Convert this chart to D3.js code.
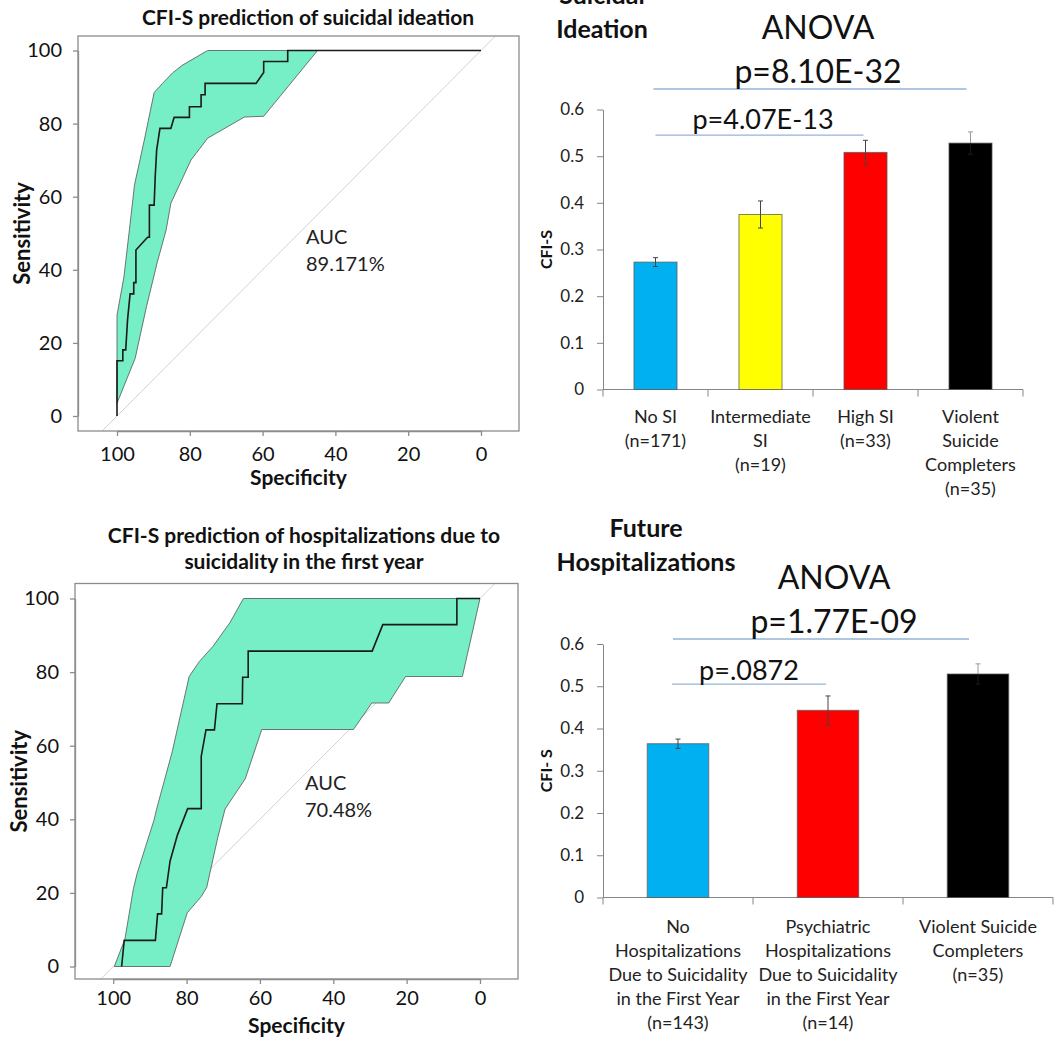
<!DOCTYPE html>
<html><head><meta charset="utf-8">
<script src="https://cdn.jsdelivr.net/npm/d3@7"></script>
<style>body{margin:0;background:#fff}svg{display:block;font-family:Lato,"Open Sans",sans-serif}</style>
</head><body><svg id="c" width="1058" height="1038"></svg>
<script>
// ---------- ROC 1: suicidal ideation ----------
const roc1Spec = [100,100,98.4,98.4,97.6,97.1,96.4,95.4,95.4,94.8,94.8,91.6,91.1,91.1,89.8,89.5,89.1,88.2,85.2,84.3,80.1,80.1,76.9,76.9,75.8,75.8,61.8,59.7,59.7,53.1,53.1,0];
const roc1Sens = [0,15.1,15.1,18.1,18.1,26.3,33.4,33.4,36.5,36.5,45.4,48.9,48.9,57.7,57.7,65.5,72.8,78.7,78.7,81.7,81.7,84.6,84.6,87.9,87.9,91.0,91.0,94.0,97.0,97.0,100,100];
const ci1UpperSpec = [100,100,98.1,96.6,95.2,92.5,89.8,87.5,84.7,82,75.1,44.9];
const ci1UpperSens = [3.5,27.6,38,50.9,63.2,75.5,88.5,91,93.9,96,100,100];
const ci1LowerSpec = [44.9,59.7,65,75.1,79.7,85.2,86.5,88.9,91.9,95,100];
const ci1LowerSens = [100,82,81.8,76,70,58.2,50.9,42.2,29.9,15.8,3.5];
const auc1 = "89.171%";

// ---------- ROC 2: hospitalizations ----------
const roc2Spec = [97.7,97.0,88.5,87.9,86.8,86.5,85.5,84.5,82.5,79.7,76,76,74.7,72.4,71.7,64.8,64.7,63.2,63.2,29.4,26.5,6.3,6.3,0];
const roc2Sens = [0,7.1,7.1,14.3,14.3,21.4,21.4,28.6,35.7,42.9,42.9,57.1,64.3,64.3,71.4,71.4,78.6,78.6,85.7,85.7,92.9,92.9,100,100];
const ci2UpperSpec = [99.7,96.8,94.5,93.5,91.2,88.9,88,83.9,79.3,76.5,72.8,68.2,64.5,0];
const ci2UpperSens = [0,7.5,21.1,25.2,32.5,39.7,43.4,58.4,78.8,82.9,87,93.4,100,100];
const ci2LowerSpec = [0,4.8,20.3,24.9,29.5,34.5,59.5,64,69.5,71.5,74.5,76,79.8,84.5,99.7];
const ci2LowerSens = [100,78.8,78.8,71.6,71.6,64.4,64.4,51,42.8,35,21.5,19,14.6,0,0];
const auc2 = "70.48%";

const rocTicks = [0,20,40,60,80,100];

// ---------- Bar chart 1: suicidal ideation ----------
const bar1Cats = [["No SI","(n=171)"],["Intermediate","SI","(n=19)"],["High SI","(n=33)"],["Violent","Suicide","Completers","(n=35)"]];
const bar1Vals = [0.273,0.375,0.508,0.528];
const bar1Err = [0.0095,0.029,0.026,0.024];
const bar1Colors = ["#00B0F0","#FFFF00","#FF0000","#000000"];

// ---------- Bar chart 2: future hospitalizations ----------
const bar2Cats = [["No","Hospitalizations","Due to Suicidality","in the First Year","(n=143)"],["Psychiatric","Hospitalizations","Due to Suicidality","in the First Year","(n=14)"],["Violent Suicide","Completers","(n=35)"]];
const bar2Vals = [0.364,0.443,0.529];
const bar2Err = [0.011,0.034,0.024];
const bar2Colors = ["#00B0F0","#FF0000","#000000"];

const barTicks = [0,0.1,0.2,0.3,0.4,0.5,0.6];

const svg = d3.select("#c");

function zipPts(a,b){return a.map((v,i)=>[v,b[i]]);}

function drawROC(c){
  const g = svg.append("g");
  const x = d3.scaleLinear().domain([100,0]).range([c.x100,c.x0]);
  const y = d3.scaleLinear().domain([0,100]).range([c.y0,c.y100]);
  const id = "clip"+c.id;
  g.append("clipPath").attr("id",id).append("rect")
    .attr("x",c.bl).attr("y",c.bt).attr("width",c.br-c.bl).attr("height",c.bb-c.bt);
  const line = d3.line().x(d=>x(d[0])).y(d=>y(d[1]));
  // diagonal
  g.append("path").attr("clip-path",`url(#${id})`)
    .attr("d",line([[120,-20],[-20,120]])).attr("stroke","#d2d2d2").attr("stroke-width",1).attr("fill","none");
  // CI band
  const band = zipPts(c.uS,c.uV).concat(zipPts(c.lS,c.lV));
  g.append("path").attr("d",line(band)+"Z").attr("fill","#76EEC6").attr("stroke","#555").attr("stroke-width",0.8);
  // curve
  g.append("path").attr("d",line(zipPts(c.spec,c.sens))).attr("fill","none").attr("stroke","#1a1a1a").attr("stroke-width",1.6);
  // box
  g.append("rect").attr("x",c.bl).attr("y",c.bt).attr("width",c.br-c.bl).attr("height",c.bb-c.bt)
    .attr("fill","none").attr("stroke","#8c8c8c").attr("stroke-width",1.3);
  // axes
  const ya = g.append("g").attr("transform",`translate(${c.bl},0)`)
    .call(d3.axisLeft(y).tickValues(rocTicks).tickSize(5).tickPadding(11).tickSizeOuter(0));
  const xa = g.append("g").attr("transform",`translate(0,${c.bb})`)
    .call(d3.axisBottom(x).tickValues(rocTicks).tickSize(5).tickPadding(c.xPad).tickSizeOuter(0));
  [ya,xa].forEach(a=>{
    a.select(".domain").attr("stroke","#8c8c8c").attr("stroke-width",1.3);
    a.selectAll(".tick line").attr("stroke","#8c8c8c").attr("stroke-width",1.3);
    a.selectAll("text").attr("font-family","Lato").attr("font-size",20).attr("fill","#111");
  });
  // labels
  g.append("text").attr("x",(c.bl+c.br)/2).attr("y",c.bb+c.xlOff).attr("text-anchor","middle")
    .attr("font-weight","bold").attr("font-size",21).attr("fill","#111").text("Specificity");
  g.append("text").attr("transform",`translate(${c.ylx},${(c.bt+c.bb)/2}) rotate(-90)`).attr("text-anchor","middle")
    .attr("dy","0.35em").attr("font-weight","bold").attr("font-size",22).attr("fill","#111").text("Sensitivity");
  // AUC
  g.append("text").attr("x",c.aucX).attr("y",c.aucY).attr("font-size",20).attr("fill","#222").text("AUC");
  g.append("text").attr("x",c.aucX).attr("y",c.aucY+27).attr("font-size",20).attr("fill","#222").text(c.auc);
  // title
  c.title.forEach((t,i)=>{
    g.append("text").attr("x",c.tx).attr("y",c.ty+i*26).attr("text-anchor","middle")
      .attr("font-weight","bold").attr("font-size",21).attr("fill","#111").text(t);
  });
}

drawROC({id:1,x100:117,x0:481,y0:416,y100:50.5,bl:78,br:519,bt:36,bb:431,xlOff:54,xPad:11,
  spec:roc1Spec,sens:roc1Sens,uS:ci1UpperSpec,uV:ci1UpperSens,lS:ci1LowerSpec,lV:ci1LowerSens,
  auc:auc1,aucX:306,aucY:244,ylx:22,title:["CFI-S prediction of suicidal ideation"],tx:308,ty:25});
drawROC({id:2,x100:113.2,x0:480,y0:966.5,y100:598.5,bl:75,br:518,bt:583.5,bb:979,xlOff:54,xPad:7,
  spec:roc2Spec,sens:roc2Sens,uS:ci2UpperSpec,uV:ci2UpperSens,lS:ci2LowerSpec,lV:ci2LowerSens,
  auc:auc2,aucX:305,aucY:790,ylx:19,title:["CFI-S prediction of hospitalizations due to","suicidality in the first year"],tx:304,ty:543});

function drawBars(c){
  const g = svg.append("g");
  const n = c.vals.length;
  const x = d3.scaleBand().domain(d3.range(n)).range([c.xl,c.xr]).paddingInner(0.59).paddingOuter(0.295);
  const y = d3.scaleLinear().domain([0,0.6]).range([c.y0,c.y6]);
  const axc = "#868686";
  // y axis
  const ya = g.append("g").attr("transform",`translate(${c.xl},0)`)
    .call(d3.axisLeft(y).tickValues(barTicks).tickFormat(d=>d===0?"0":d3.format(".1f")(d)).tickSize(6).tickPadding(13).tickSizeOuter(0));
  ya.select(".domain").attr("stroke",axc);
  ya.selectAll(".tick line").attr("stroke",axc);
  ya.selectAll("text").attr("font-family","Lato").attr("font-size",17).attr("fill","#222");
  // x axis line + category tick marks
  g.append("line").attr("x1",c.xl).attr("x2",c.xr).attr("y1",c.y0).attr("y2",c.y0).attr("stroke",axc);
  const bounds = d3.range(n+1).map(i=>c.xl+i*x.step());
  g.selectAll(".ct").data(bounds).join("line").attr("x1",d=>d).attr("x2",d=>d)
    .attr("y1",c.y0).attr("y2",c.y0+7).attr("stroke",axc);
  // bars
  g.selectAll(".bar").data(c.vals).join("rect")
    .attr("x",(d,i)=>x(i)).attr("width",x.bandwidth())
    .attr("y",d=>y(d)).attr("height",d=>c.y0-y(d))
    .attr("fill",(d,i)=>c.colors[i]).attr("stroke","rgba(90,90,90,0.75)").attr("stroke-width",1);
  // error bars
  c.vals.forEach((v,i)=>{
    const cx = x(i)+x.bandwidth()/2;
    const dark = c.colors[i]==="#000000";
    const col = dark ? "#9a9a9a" : "#444";
    const lowCol = dark ? "#1a1a1a" : col;
    const hi = y(v+c.err[i]), mid = y(v), lo = y(v-c.err[i]);
    g.append("line").attr("x1",cx).attr("x2",cx).attr("y1",hi).attr("y2",mid).attr("stroke",col).attr("stroke-width",1);
    g.append("line").attr("x1",cx).attr("x2",cx).attr("y1",mid).attr("y2",lo).attr("stroke",lowCol).attr("stroke-width",1);
    g.append("line").attr("x1",cx-2.5).attr("x2",cx+2.5).attr("y1",hi).attr("y2",hi).attr("stroke",col).attr("stroke-width",1);
    g.append("line").attr("x1",cx-2.5).attr("x2",cx+2.5).attr("y1",lo).attr("y2",lo).attr("stroke",lowCol).attr("stroke-width",1);
  });
  // category labels
  c.cats.forEach((lines,i)=>{
    const cx = x(i)+x.bandwidth()/2;
    lines.forEach((t,j)=>{
      g.append("text").attr("x",cx).attr("y",c.labY+j*24).attr("text-anchor","middle")
        .attr("font-size",18).attr("fill","#222").text(t);
    });
  });
  // y label
  g.append("text").attr("transform",`translate(546,${(c.y0+c.y6)/2}) rotate(-90)`).attr("text-anchor","middle")
    .attr("dy","0.35em").attr("font-weight","bold").attr("font-size",16).attr("fill","#111").text(c.ylab);
  // significance lines
  c.sig.forEach(s=>{
    const x1 = x(s.from)+x.bandwidth()/2+s.dx1, x2 = x(s.to)+x.bandwidth()/2+s.dx2;
    const yy = y(s.v);
    g.append("line").attr("x1",x1).attr("x2",x2).attr("y1",yy).attr("y2",yy).attr("stroke","#95B3D7").attr("stroke-width",1.4);
    s.text.forEach((t,k)=>{
      g.append("text").attr("x",s.tx).attr("y",yy+s.ty[k]).attr("text-anchor","middle")
        .attr("font-size",s.fs).attr("fill","#111").text(t);
    });
  });
  // heading
  c.head.forEach((t,k)=>{
    g.append("text").attr("x",c.hx).attr("y",c.hy+k*34).attr("text-anchor","middle")
      .attr("font-weight","bold").attr("font-size",25).attr("fill","#111").text(t);
  });
}

drawBars({xl:603,xr:1023,y0:389.5,y6:109.5,vals:bar1Vals,err:bar1Err,colors:bar1Colors,cats:bar1Cats,
  labY:423,ylab:"CFI-S",head:["Suicidal","Ideation"],hx:602,hy:4,
  sig:[{from:0,to:3,dx1:-2,dx2:-4,v:0.644,tx:818,ty:[-50,-6],fs:32,text:["ANOVA","p=8.10E-32"]},
       {from:0,to:2,dx1:0,dx2:-2,v:0.545,tx:763,ty:[-6],fs:27,text:["p=4.07E-13"]}]});
drawBars({xl:603,xr:1053,y0:897.5,y6:644,vals:bar2Vals,err:bar2Err,colors:bar2Colors,cats:bar2Cats,
  labY:933,ylab:"CFI- S",head:["Future","Hospitalizations"],hx:646,hy:537,
  sig:[{from:0,to:2,dx1:-5,dx2:-9,v:0.612,tx:834,ty:[-50,-6],fs:32,text:["ANOVA","p=1.77E-09"]},
       {from:0,to:1,dx1:-6,dx2:-2,v:0.505,tx:749,ty:[-4],fs:27,text:["p=.0872"]}]});
</script>
</body></html>
